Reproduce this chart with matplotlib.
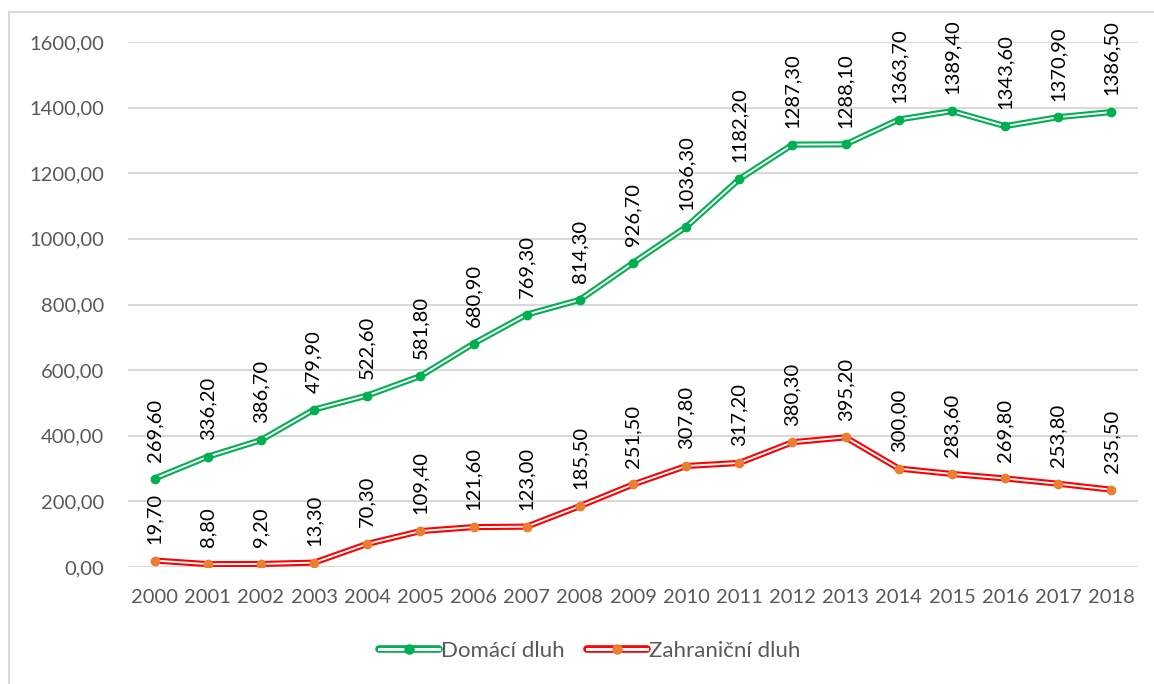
import matplotlib
matplotlib.use("Agg")
import matplotlib.pyplot as plt
from matplotlib.lines import Line2D
from matplotlib.patches import Rectangle

plt.rcParams['font.family'] = ['Lato', 'DejaVu Sans']

# Vládní dluh podle původu, 2000-2018
roky = [str(r) for r in range(2000, 2019)]
domaci = [269.6, 336.2, 386.7, 479.9, 522.6, 581.8, 680.9, 769.3, 814.3, 926.7,
          1036.3, 1182.2, 1287.3, 1288.1, 1363.7, 1389.4, 1343.6, 1370.9, 1386.5]
zahranicni = [19.7, 8.8, 9.2, 13.3, 70.3, 109.4, 121.6, 123.0, 185.5, 251.5,
              307.8, 317.2, 380.3, 395.2, 300.0, 283.6, 269.8, 253.8, 235.5]
y_ticks = [0, 200, 400, 600, 800, 1000, 1200, 1400, 1600]

ZELENA = '#00B050'
CERVENA = '#FF0000'
ORANZOVA = '#ED7D31'
FS = 14.5


def cz(v):
    return f"{v:.2f}".replace('.', ',')


fig = plt.figure(figsize=(11.54, 6.84), dpi=100)
ax = fig.add_axes([128 / 1154, 1 - 567 / 684, 1010 / 1154, 525 / 684])

# rámeček grafu
fig.patches.append(Rectangle((9 / 1154, -0.01), 1.02, 1 - 12 / 684 + 0.01,
                             transform=fig.transFigure, fill=False,
                             edgecolor='#d9d9d9', lw=1.5, zorder=0))

x = list(range(len(roky)))
handles = []
for data, barva, znacka, nazev in [(domaci, ZELENA, ZELENA, 'Domácí dluh'),
                                   (zahranicni, CERVENA, ORANZOVA, 'Zahraniční dluh')]:
    # dvojitá čára: silná barevná a tenká bílá uprostřed
    ax.plot(x, data, color=barva, lw=4.4, solid_capstyle='round', zorder=3)
    ax.plot(x, data, color='white', lw=1.4, zorder=4)
    ax.plot(x, data, ls='none', marker='o', ms=6, color=znacka, zorder=5)
    for xi, v in zip(x, data):
        ax.annotate(cz(v), (xi, v), xytext=(0, 12), textcoords='offset points',
                    rotation=90, ha='center', va='bottom', fontsize=FS,
                    color='black', annotation_clip=False)
    h_out = Line2D([], [], color=barva, lw=5.5, solid_capstyle='round')
    h_in = Line2D([], [], color='white', lw=2.2, marker='o', ms=6.5,
                  markerfacecolor=znacka, markeredgecolor=znacka)
    handles.append(((h_out, h_in), nazev))

ax.set_xlim(-0.5, len(roky) - 0.5)
ax.set_ylim(0, 1600)
ax.set_xticks(x)
ax.set_xticklabels(roky)
ax.set_yticks(y_ticks)
ax.set_yticklabels([cz(v) for v in y_ticks])
ax.tick_params(axis='both', length=0, labelsize=FS, labelcolor='#595959')
ax.tick_params(axis='x', pad=16)
ax.tick_params(axis='y', pad=17)
ax.grid(axis='y', color='#d9d9d9', lw=1.5)
ax.set_axisbelow(True)
for s in ax.spines.values():
    s.set_visible(False)

fig.legend([h for h, _ in handles], [n for _, n in handles],
           loc='center', bbox_to_anchor=(590 / 1154, 1 - 651 / 684), ncol=2,
           frameon=False, fontsize=16, handlelength=2.7, handletextpad=0.1,
           columnspacing=1.0, labelcolor='#595959')

fig.savefig('out.png', dpi=100)
